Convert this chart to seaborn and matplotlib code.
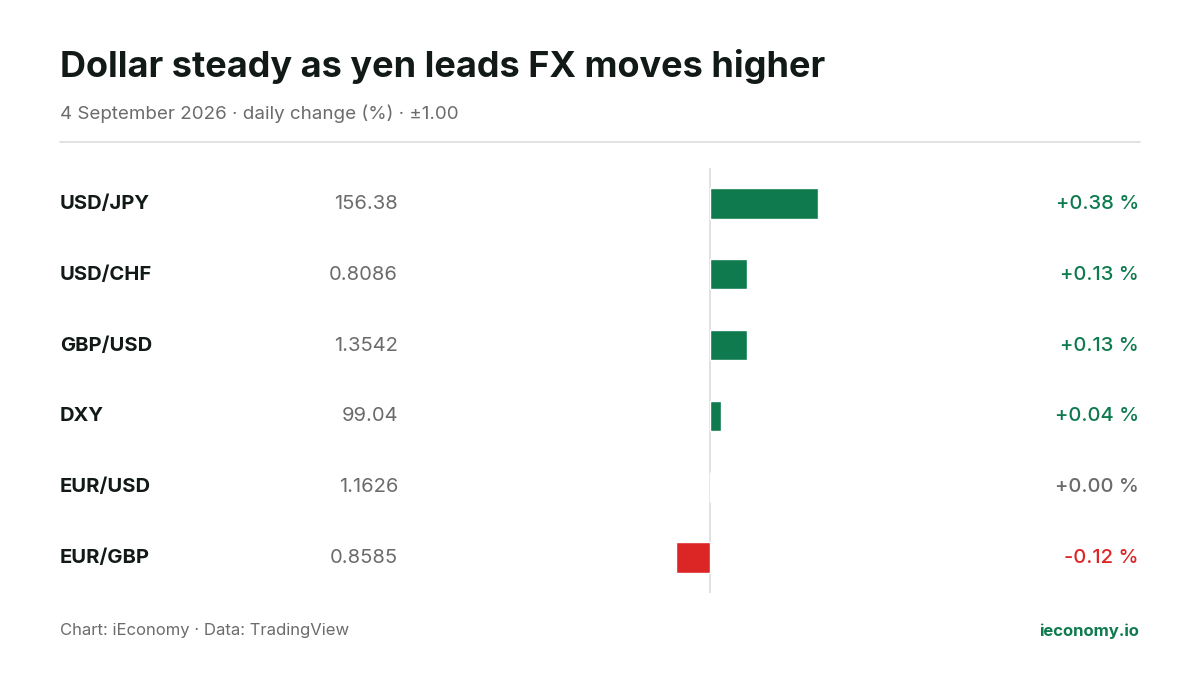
import matplotlib
matplotlib.use("Agg")
import matplotlib.pyplot as plt
import seaborn as sns
import pandas as pd

pairs = ["USD/JPY", "USD/CHF", "GBP/USD", "DXY", "EUR/USD", "EUR/GBP"]
levels = ["156.38", "0.8086", "1.3542", "99.04", "1.1626", "0.8585"]
changes = [0.38, 0.13, 0.13, 0.04, 0.00, -0.12]

GREEN = "#0e7a4e"
RED = "#dc2626"
GREY = "#6b6b6b"
DARK = "#111a16"

sns.set_theme(style="white")
plt.rcParams["font.family"] = ["Inter", "DejaVu Sans"]

df = pd.DataFrame({"pair": pairs, "chg": changes})
df["sign"] = ["pos" if c > 0 else ("neg" if c < 0 else "zero") for c in changes]

W, H = 1200, 675
fig = plt.figure(figsize=(12, 6.75), dpi=100)
ax = fig.add_axes([426 / W, (H - 593) / H, (994 - 426) / W, (593 - 168) / H])
sns.barplot(data=df, x="chg", y="pair", hue="sign", orient="h",
            palette={"pos": GREEN, "neg": RED, "zero": GREY},
            width=0.43, legend=False, ax=ax, saturation=1)
ax.set_xlim(-1, 1)
ax.set_ylim(5.5, -0.5)
ax.axvline(0, color="#dcdcdc", lw=1.2, zorder=0)
ax.axis("off")

def fy(py):
    return 1 - py / H

fig.text(60 / W, fy(67), "Dollar steady as yen leads FX moves higher",
         fontsize=26, fontweight="bold", color=DARK, va="center")
fig.text(60 / W, fy(114), "4 September 2026 · daily change (%) · ±1.00",
         fontsize=13.5, color=GREY, va="center")
fig.add_artist(plt.Line2D([60 / W, 1140 / W], [fy(142), fy(142)],
                          color="#dddddd", lw=1.2))

for i, (p, lv, c) in enumerate(zip(pairs, levels, changes)):
    y = fy(204 + i * 70.8)
    fig.text(60 / W, y, p, fontsize=14.5, fontweight="bold", color=DARK, va="center")
    fig.text(398 / W, y, lv, fontsize=14.5, color=GREY, va="center", ha="right")
    col = GREEN if c > 0 else (RED if c < 0 else GREY)
    fig.text(1139 / W, y, f"{c:+.2f} %", fontsize=14.5, color=col,
             fontweight="medium", va="center", ha="right")

fig.text(60 / W, fy(631), "Chart: iEconomy · Data: TradingView",
         fontsize=12, color=GREY, va="center")
fig.text(1139 / W, fy(631), "ieconomy.io", fontsize=12, color=GREEN,
         fontweight="bold", va="center", ha="right")

fig.savefig("out.png", dpi=100, facecolor="white")
